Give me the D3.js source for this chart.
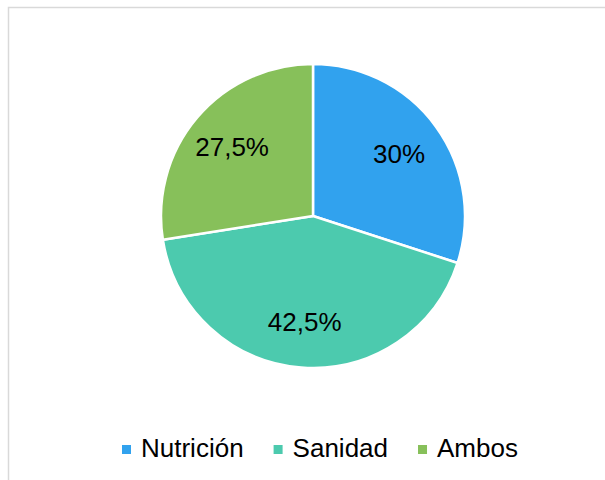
<!DOCTYPE html>
<html>
<head>
<meta charset="utf-8">
<script src="https://cdn.jsdelivr.net/npm/d3@7"></script>
<style>
  body { margin: 0; background: #fff; }
  svg { display: block; font-family: "Liberation Sans", Arial, sans-serif; }
</style>
</head>
<body>
<script>
// data
var categories = ["Nutrición", "Sanidad", "Ambos"]
var values = [30, 42.5, 27.5]
var labels = ["30%", "42,5%", "27,5%"]
var colors = ["#31a2ee", "#4ccaae", "#87c05a"]
var titlePrefix = "Áreas "
var title = titlePrefix + "principales causas y efectos"

var width = 605, height = 480
var svg = d3.select("body").append("svg")
    .attr("width", width)
    .attr("height", height)

// chart frame (cut off on the right and bottom)
svg.append("rect")
    .attr("x", 8.5).attr("y", 7.5)
    .attr("width", 700).attr("height", 600)
    .attr("fill", "#fff")
    .attr("stroke", "#d9d9d9")
    .attr("stroke-width", 1.5)

// title sits above the visible area, only descenders show
var titleText = svg.append("text")
    .attr("y", -5)
    .attr("font-size", 26)
    .attr("font-weight", "bold")
    .attr("fill", "#000")
    .text(title)
var prefixW = titleText.node().getSubStringLength(0, titlePrefix.length)
titleText.attr("x", 254 - prefixW)

var cx = 313, cy = 216, r = 152

var pie = d3.pie().sort(null).value(function(d){ return d })
var arcs = pie(values)
var arc = d3.arc().innerRadius(0).outerRadius(r)
var labelArc = d3.arc().innerRadius(r * 0.7).outerRadius(r * 0.7)

var g = svg.append("g").attr("transform", "translate(" + [cx, cy] + ")")

g.selectAll("path")
    .data(arcs).enter()
    .append("path")
    .attr("d", arc)
    .attr("fill", function(d, i){ return colors[i] })
    .attr("stroke", "#fff")
    .attr("stroke-width", 2.5)
    .attr("stroke-linejoin", "round")

g.selectAll("text.lbl")
    .data(arcs).enter()
    .append("text")
    .attr("class", "lbl")
    .attr("transform", function(d){ return "translate(" + labelArc.centroid(d) + ")" })
    .attr("text-anchor", "middle")
    .attr("dy", "0.35em")
    .attr("font-size", 26)
    .attr("fill", "#000")
    .text(function(d, i){ return labels[i] })

// legend
var legend = svg.append("g").attr("transform", "translate(122,457)")
var xoff = 0
categories.forEach(function(c, i){
    var item = legend.append("g").attr("transform", "translate(" + xoff + ",0)")
    item.append("rect")
        .attr("x", 0).attr("y", -12)
        .attr("width", 9).attr("height", 9)
        .attr("fill", colors[i])
    var t = item.append("text")
        .attr("x", 19).attr("y", 0)
        .attr("font-size", 26)
        .attr("fill", "#000")
        .text(c)
    xoff += 19 + t.node().getComputedTextLength() + 30
})
</script>
</body>
</html>
